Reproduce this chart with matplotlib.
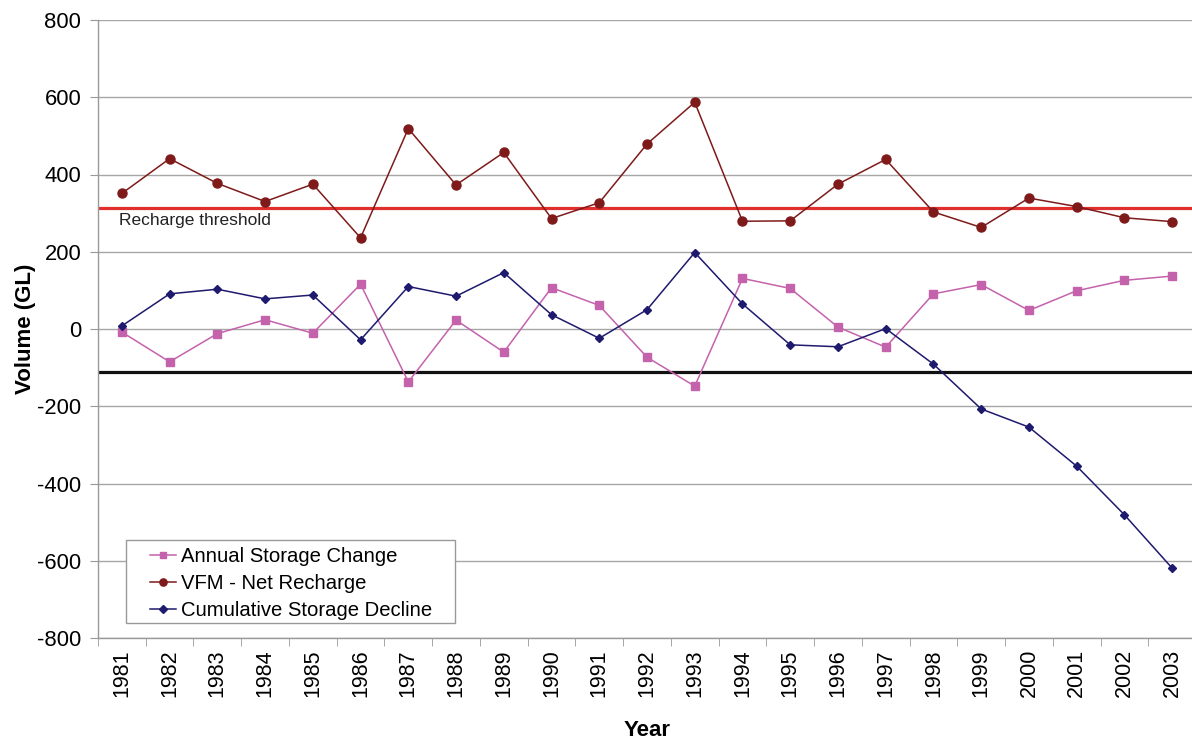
import numpy as np
import matplotlib
matplotlib.use("Agg")
import matplotlib.pyplot as plt
from matplotlib.patches import Rectangle

plt.rcParams['font.family'] = ['Liberation Sans', 'DejaVu Sans']
plt.rcParams['axes.unicode_minus'] = False

#%%
### Data ###
years = [str(y) for y in range(1981, 2004)]

annual_storage_change = [-8, -85, -12, 24, -11, 116, -137, 23, -60, 107, 61, -73,
                         -148, 131, 105, 5, -47, 91, 115, 48, 99, 126, 137]
net_recharge = [351, 441, 377, 330, 375, 236, 519, 373, 457, 286, 327, 479,
                587, 279, 280, 375, 439, 303, 263, 339, 317, 288, 278]
cumulative_decline = [8, 91, 103, 78, 88, -28, 110, 85, 146, 37, -24, 50,
                      198, 65, -41, -46, 1, -91, -207, -254, -355, -481, -619]

recharge_threshold = 313
decline_level = -112

#%%
### Plot ###
fig = plt.figure(figsize=(11.92, 7.43), dpi=100)
ax = fig.add_axes([98 / 1192, 105 / 743, (1196 - 98) / 1192, 618 / 743])

x = np.arange(len(years))

ax.axhline(recharge_threshold, color="#E0302E", lw=2.3, zorder=2)
ax.axhline(decline_level, color="#111111", lw=2.3, zorder=2)

ax.plot(x, annual_storage_change, color="#C462AC", lw=1.1, marker="s", ms=6,
        label="Annual Storage Change", zorder=3)
ax.plot(x, net_recharge, color="#7F1A1A", lw=1.1, marker="o", ms=6.5,
        label="VFM - Net Recharge", zorder=3)
ax.plot(x, cumulative_decline, color="#1E1A6E", lw=1.1, marker="D", ms=4.5,
        label="Cumulative Storage Decline", zorder=3)

ax.text(-0.05, recharge_threshold - 33, "Recharge threshold",
        fontsize=12.5, color="#222222", va="center", ha="left")

ax.set_ylim(-800, 800)
ax.set_yticks(np.arange(-800, 801, 200))
ax.set_xlim(-0.5, len(years) - 0.5)
ax.set_xticks(x)
ax.set_xticklabels(years, rotation=90, fontsize=15.5)
ax.set_xticks(np.arange(-0.5, len(years), 1), minor=True)
ax.tick_params(axis="x", which="major", length=0, pad=8)
ax.tick_params(axis="x", which="minor", length=6, color="#999999", direction="out")
ax.tick_params(axis="y", labelsize=15.8, length=6, pad=6, color="#999999",
               direction="out")

ax.yaxis.grid(True, color="#A6A6A6", lw=1.0)
ax.set_axisbelow(True)
for side in ["top", "right"]:
    ax.spines[side].set_visible(False)
for side in ["left", "bottom"]:
    ax.spines[side].set_color("#999999")
    ax.spines[side].set_linewidth(1.0)

ax.set_ylabel("Volume (GL)", fontsize=16, fontweight="bold", labelpad=1)
ax.set_xlabel("Year", fontsize=16, fontweight="bold", labelpad=16)

# legend box drawn separately so it can be wider than the entries
ax.add_patch(Rectangle((28 / 1098, 15 / 618), 329 / 1098, 83 / 618,
                       transform=ax.transAxes, facecolor="white",
                       edgecolor="#999999", lw=1.0, zorder=4))
leg = ax.legend(loc="lower left", bbox_to_anchor=(52 / 1098, 18 / 618),
                fontsize=14.6, frameon=False, handlelength=1.3,
                handletextpad=0.25, borderpad=0, labelspacing=0.4,
                borderaxespad=0, markerscale=0.8)
leg.set_zorder(5)

fig.savefig("out.png", dpi=100)
